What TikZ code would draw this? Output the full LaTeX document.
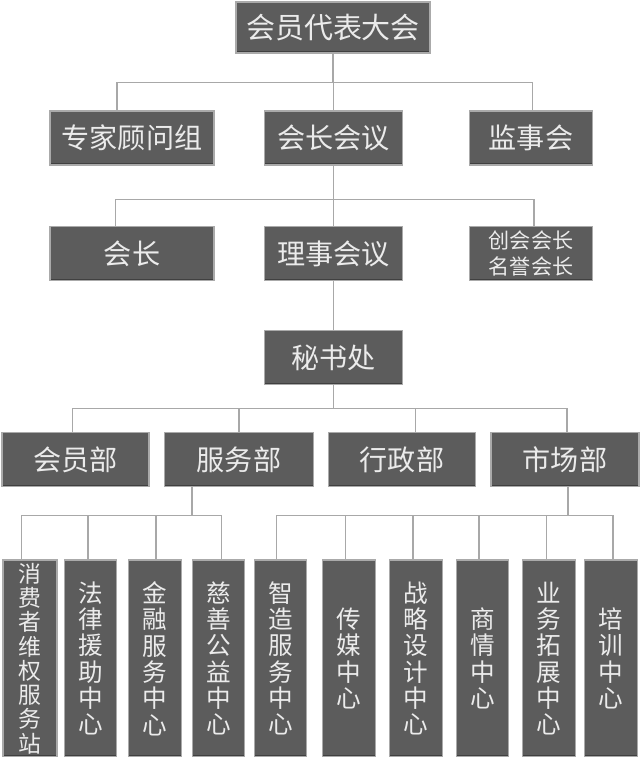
\documentclass[tikz,border=0pt]{standalone}
\usepackage{fontspec}
\newfontfamily\cjk{Noto Sans CJK SC}
\usetikzlibrary{calc}

\definecolor{boxgray}{RGB}{92,92,92}
\definecolor{edgegray}{RGB}{170,170,170}
\definecolor{linegray}{RGB}{168,168,168}

\tikzset{
  box/.style={draw=edgegray, line width=0.8pt, fill=boxgray, text=white!92!black,
    inner sep=0pt, font=\cjk\fontsize{16}{18}\selectfont,
    path picture={\draw[black!75, line width=2pt]
      (path picture bounding box.south west) -- (path picture bounding box.south east);}},
  hbox/.style={box, minimum height=1.08cm},
  vbox/.style={box, minimum height=3.94cm, minimum width=1.05cm, align=center,
    font=\cjk\fontsize{14}{15}\selectfont},
  link/.style={draw=linegray, line width=0.7pt}
}

\begin{document}
\begin{tikzpicture}[x=0.02cm, y=-0.02cm]
      \useasboundingbox (0,0) rectangle (640,757);

      \node[hbox, minimum width=3.88cm, minimum height=1.02cm, font=\cjk\fontsize{16.5}{18}\selectfont] (dh) at (333,27.5) {会员代表大会};

      \node[hbox, minimum width=3.28cm] (zj) at (132,138) {专家顾问组};
      \node[hbox, minimum width=2.75cm] (hz) at (333.5,138) {会长会议};
      \node[hbox, minimum width=2.47cm] (js) at (531,138) {监事会};

      \node[hbox, minimum width=3.28cm] (hui) at (132,253.5) {会长};
      \node[hbox, minimum width=2.75cm] (ls) at (333.5,253.5) {理事会议};
      \node[hbox, minimum width=2.47cm, align=center,
            font=\cjk\fontsize{12}{14.5}\selectfont] (mz) at (531,253.5) {创会会长\\名誉会长};

      \node[hbox, minimum width=2.75cm] (ms) at (333.5,357.5) {秘书处};

      \node[hbox, minimum width=2.94cm] (hy) at (75.5,459.5) {会员部};
      \node[hbox, minimum width=2.97cm] (fw) at (239,459.5) {服务部};
      \node[hbox, minimum width=2.94cm] (xz) at (402,459.5) {行政部};
      \node[hbox, minimum width=2.96cm] (sc) at (565,459.5) {市场部};

      % bottom row, runs off the page
      \node[vbox, minimum width=1.08cm, font=\cjk\fontsize{13}{13.8}\selectfont] (xf) at (30,658.5)
        {消\\费\\者\\维\\权\\服\\务\\站};
      \node[vbox] (fl) at (90.5,658.5) {法\\律\\援\\助\\中\\心};
      \node[vbox] (jr) at (155,658.5) {金\\融\\服\\务\\中\\心};
      \node[vbox] (cs) at (218.5,658.5) {慈\\善\\公\\益\\中\\心};
      \node[vbox] (zz) at (280.5,658.5) {智\\造\\服\\务\\中\\心};
      \node[vbox] (cm) at (349,658.5) {传\\媒\\中\\心};
      \node[vbox] (zl) at (416,658.5) {战\\略\\设\\计\\中\\心};
      \node[vbox] (sq) at (482.5,658.5) {商\\情\\中\\心};
      \node[vbox] (yw) at (549,658.5) {业\\务\\拓\\展\\中\\心};
      \node[vbox] (px) at (611,658.5) {培\\训\\中\\心};

      \draw[link] (dh.south) -- ++(0,29) -| ($(zj.north)+(-15,0)$)
                  (dh.south) -- ++(0,29) -| (hz.north)
                  (dh.south) -- ++(0,29) -| ($(js.north)+(1.5,0)$);

      \draw[link] (hz.south) -- ++(0,34) -| ($(hui.north)+(-16.5,0)$)
                  (hz.south) -- ++(0,34) -| (ls.north)
                  (hz.south) -- ++(0,34) -| ($(mz.north)+(3,0)$);

      \draw[link] (ls) -- (ms);

      \draw[link] (ms.south) -- ++(0,23) -| ($(hy.north)+(-3,0)$)
                  (ms.south) -- ++(0,23) -| (fw.north)
                  (ms.south) -- ++(0,23) -| ($(xz.north)+(13.5,0)$)
                  (ms.south) -- ++(0,23) -| ($(sc.north)+(2,0)$);

      \draw[link] ($(fw.south)+(-47,0)$) -- ++(0,28.5) -| ($(xf.north)+(-8.3,0)$)
                  ($(fw.south)+(-47,0)$) -- ++(0,28.5) -| ($(fl.north)+(-2.5,0)$)
                  ($(fw.south)+(-47,0)$) -- ++(0,28.5) -| ($(jr.north)+(1,0)$)
                  ($(fw.south)+(-47,0)$) -- ++(0,28.5) -| ($(cs.north)+(3.2,0)$);

      \draw[link] ($(sc.south)+(3,0)$) -- ++(0,28.5) -| ($(zz.north)+(-3.8,0)$)
                  ($(sc.south)+(3,0)$) -- ++(0,28.5) -| ($(cm.north)+(-3.3,0)$)
                  ($(sc.south)+(3,0)$) -- ++(0,28.5) -| ($(zl.north)+(-3,0)$)
                  ($(sc.south)+(3,0)$) -- ++(0,28.5) -| ($(sq.north)+(-3.5,0)$)
                  ($(sc.south)+(3,0)$) -- ++(0,28.5) -| ($(yw.north)+(-2.3,0)$)
                  ($(sc.south)+(3,0)$) -- ++(0,28.5) -| ($(px.north)+(2,0)$);
    \end{tikzpicture}
\end{document}
